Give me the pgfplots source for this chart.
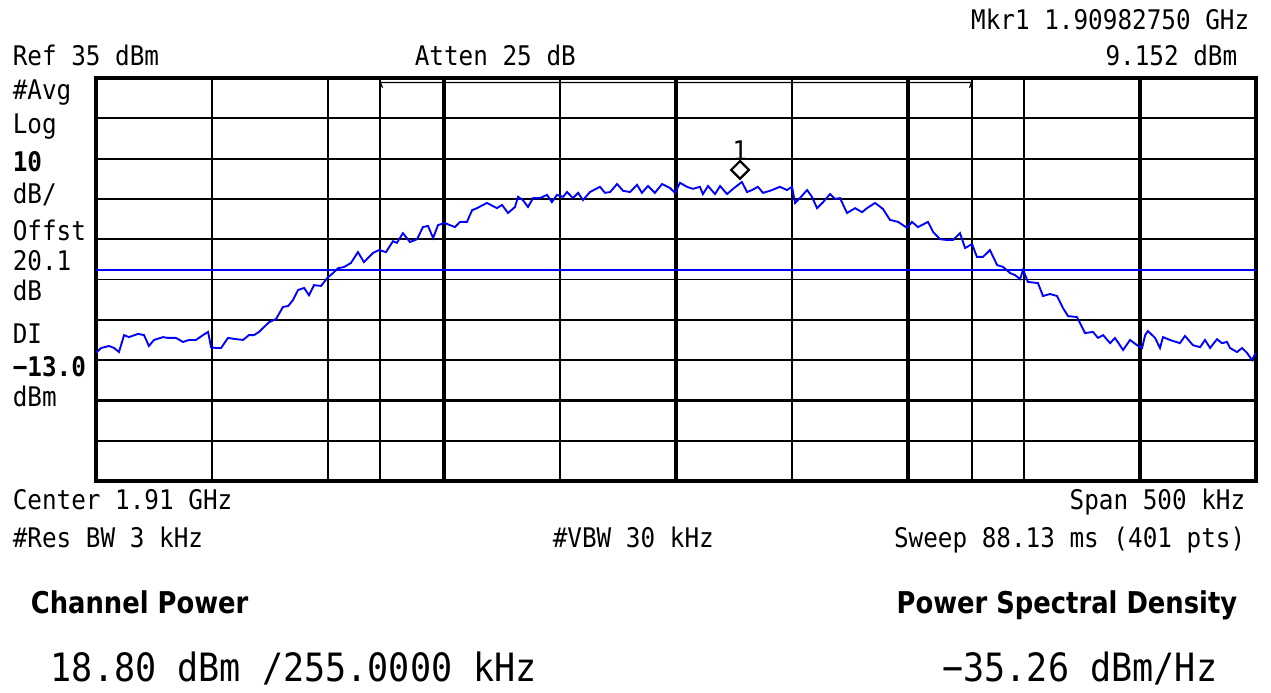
\documentclass[border=0pt]{standalone}
\usepackage{fontspec}
\setmainfont{DejaVu Sans Mono}[FakeStretch=0.9]
\newfontfamily\headfont{DejaVu Sans}[FakeStretch=0.86]
\usepackage{pgfplots}
\pgfplotsset{compat=1.18}

\definecolor{trace}{RGB}{0,0,255}
\newcommand{\sa}{\fontsize{10.8pt}{12pt}\selectfont}
\newcommand{\sabig}{\fontsize{15.6pt}{18pt}\selectfont}
\newcommand{\sahead}{\headfont\bfseries\fontsize{12pt}{14pt}\selectfont}

\begin{document}
\begin{tikzpicture}[x=0.4pt,y=0.4pt]
\path (0,0) rectangle (1271,691);

\begin{axis}[
  at={(38.4pt,84pt)}, anchor=south west,
  scale only axis, width=464pt, height=161.2pt,
  xmin=-250, xmax=250, ymin=-65, ymax=35,
  xtick={-250,-200,...,250}, ytick={-65,-55,...,35},
  xticklabels={}, yticklabels={},
  major tick length=0pt,
  grid=major,
  major grid style={black, line width=0.75pt},
  axis line style={black, line width=1.4pt},
  extra x ticks={-127.5,127.5}, extra x tick labels={},
  extra x tick style={grid=major, major tick length=0pt},
  clip=true,
]
% heavier grid lines
\draw[line width=1.3pt] (axis cs:-100,-65) -- (axis cs:-100,35);
\draw[line width=1.3pt] (axis cs:0,-65) -- (axis cs:0,35);
\draw[line width=1.3pt] (axis cs:100,-65) -- (axis cs:100,35);
\draw[line width=1.3pt] (axis cs:200,-65) -- (axis cs:200,35);
\draw[line width=1.3pt] (axis cs:-250,-45) -- (axis cs:250,-45);

% channel bandwidth indicator
\addplot[black, line width=0.5pt] coordinates {
  (-126.5,32.6)(-127.5,33.9)(127.5,33.9)(126.5,32.6)
};

% display line
\addplot[trace, line width=0.7pt] coordinates {(-250,-12.7)(250,-12.7)};

% trace
\addplot[trace, line width=0.75pt] coordinates {
(-250.0,-33.2)(-247.8,-32.0)(-244.4,-31.5)(-242.2,-32.0)(-240.1,-33.0)
(-237.9,-28.8)(-235.8,-29.3)(-231.9,-28.5)(-229.3,-28.8)(-227.2,-31.5)
(-225.0,-30.0)(-221.1,-29.3)(-219.0,-29.5)(-215.5,-29.5)(-212.5,-30.5)
(-209.9,-30.0)(-206.9,-30.0)(-203.9,-28.8)(-201.7,-28.0)(-200.4,-31.8)
(-198.3,-32.0)(-196.1,-32.0)(-193.1,-29.5)(-189.7,-29.8)(-186.6,-30.0)
(-184.1,-28.8)(-181.9,-28.8)(-179.7,-28.0)(-177.6,-26.8)(-175.4,-25.6)
(-172.4,-24.8)(-169.4,-21.8)(-167.2,-21.6)(-165.1,-20.1)(-162.9,-17.6)
(-160.3,-17.1)(-158.2,-18.9)(-156.0,-16.4)(-153.0,-16.6)(-150.0,-14.4)
(-147.8,-13.4)(-145.7,-12.2)(-143.1,-11.9)(-140.1,-10.9)(-137.1,-8.2)
(-134.5,-10.7)(-130.6,-8.4)(-128.0,-7.7)(-125.0,-8.2)(-122.0,-5.5)
(-120.3,-5.9)(-117.7,-3.5)(-114.7,-5.7)(-111.6,-5.0)(-109.1,-2.0)
(-106.9,-1.7)(-104.7,-4.7)(-102.6,-1.5)(-99.6,-1.0)(-95.3,-2.0)
(-93.1,-0.7)(-90.1,-0.7)(-87.9,2.2)(-85.8,2.7)(-81.5,4.0)
(-77.2,2.7)(-75.0,3.5)(-72.4,1.5)(-69.4,3.0)(-68.1,5.5)
(-66.0,4.7)(-63.8,3.0)(-61.6,5.2)(-58.6,5.2)(-55.6,6.0)
(-53.5,4.2)(-51.3,6.0)(-48.7,5.5)(-47.0,6.7)(-44.4,5.2)
(-42.2,6.5)(-40.1,4.7)(-37.1,6.7)(-32.8,8.0)(-30.6,6.5)
(-28.4,6.7)(-25.4,8.7)(-22.8,7.0)(-19.8,6.7)(-16.8,8.5)
(-14.7,6.5)(-12.1,8.2)(-9.1,6.5)(-6.0,8.7)(-2.6,7.7)
(-0.4,6.5)(1.7,9.0)(4.7,8.0)(7.3,7.5)(10.3,8.0)
(11.6,6.2)(13.8,8.2)(16.8,6.2)(19.0,8.2)(22.0,6.2)
(24.6,7.5)(28.4,9.2)(30.6,6.7)(32.8,7.2)(35.3,8.0)
(37.5,6.5)(40.5,7.0)(44.8,8.0)(47.8,7.2)(50.0,8.0)
(51.3,4.0)(53.4,5.2)(56.5,7.2)(58.6,5.5)(60.8,2.7)
(63.4,4.2)(66.4,6.2)(68.5,5.0)(70.7,5.2)(73.7,1.5)
(77.2,2.7)(80.2,1.7)(82.3,2.7)(85.8,4.0)(89.2,2.5)
(92.2,-0.2)(95.7,-0.7)(99.6,-2.2)(101.7,-0.7)(104.3,-2.0)
(108.6,-0.7)(110.8,-3.2)(113.8,-5.0)(116.8,-5.2)(119.4,-5.2)
(122.4,-3.5)(124.6,-7.2)(127.6,-6.2)(129.7,-9.4)(132.3,-9.4)
(135.3,-7.7)(138.4,-11.4)(141.0,-11.9)(144.0,-13.4)(146.1,-13.9)
(148.3,-14.9)(149.6,-12.6)(151.7,-15.6)(156.0,-15.9)(158.2,-19.1)
(161.2,-18.6)(164.2,-19.1)(166.8,-22.1)(169.0,-24.1)(172.8,-24.3)
(176.3,-28.3)(179.7,-28.0)(181.9,-29.5)(184.1,-28.8)(187.1,-30.8)
(189.2,-29.5)(192.7,-32.5)(195.7,-30.0)(198.7,-31.3)(200.9,-32.0)
(202.2,-28.8)(203.4,-27.8)(206.5,-29.5)(208.6,-32.0)(209.9,-29.3)
(212.9,-30.0)(217.2,-30.8)(219.4,-29.0)(222.8,-31.3)(225.9,-31.8)
(228.0,-30.0)(230.2,-32.0)(233.2,-29.8)(235.3,-30.8)(237.5,-30.5)
(238.8,-32.0)(241.8,-33.0)(244.0,-32.0)(246.1,-33.2)(248.3,-35.0)
(249.6,-33.5)(250.0,-33.5)
};

% marker 1
\addplot[black, only marks, mark=square, mark size=2.5pt,
  mark options={rotate=45, line width=0.9pt, fill=white},
  nodes near coords={1}, every node near coord/.style={font=\sa, black, yshift=0pt}]
  coordinates {(27.6,12.2)};
\end{axis}

% annotations
\node[anchor=base east, font=\sa] at (1258,661) {Mkr1 1.90982750 GHz};
\node[anchor=base east, font=\sa] at (1246,625) {9.152 dBm};
\node[anchor=base west, font=\sa] at (4,625) {Ref 35 dBm};
\node[anchor=base west, font=\sa] at (406,625) {Atten 25 dB};

\node[anchor=base west, font=\sa] at (4,591) {\#Avg};
\node[anchor=base west, font=\sa] at (4,557) {Log};
\node[anchor=base west, font=\sa\bfseries] at (4,519) {10};
\node[anchor=base west, font=\sa] at (4,487) {dB/};
\node[anchor=base west, font=\sa] at (4,450) {Offst};
\node[anchor=base west, font=\sa] at (4,420) {20.1};
\node[anchor=base west, font=\sa] at (4,390) {dB};
\node[anchor=base west, font=\sa] at (4,347) {DI};
\node[anchor=base west, font=\sa\bfseries] at (4,314) {−13.0};
\node[anchor=base west, font=\sa] at (4,284) {dBm};

\node[anchor=base west, font=\sa] at (4,181) {Center 1.91 GHz};
\node[anchor=base east, font=\sa] at (1254,181) {Span 500 kHz};
\node[anchor=base west, font=\sa] at (4,143) {\#Res BW 3 kHz};
\node[anchor=base west, font=\sa] at (544,143) {\#VBW 30 kHz};
\node[anchor=base east, font=\sa] at (1254,143) {Sweep 88.13 ms (401 pts)};

\node[anchor=base west, font=\sahead] at (22,77) {Channel Power};
\node[anchor=base east, font=\sahead] at (1246,77) {Power Spectral Density};
\node[anchor=base west, font=\sabig] at (42,10) {18.80 dBm /255.0000 kHz};
\node[anchor=base east, font=\sabig] at (1226,10) {−35.26 dBm/Hz};
\end{tikzpicture}
\end{document}
